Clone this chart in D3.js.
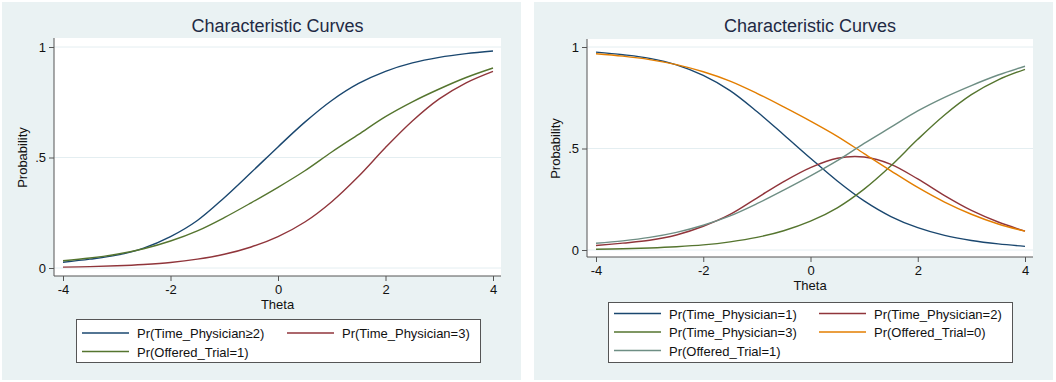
<!DOCTYPE html>
<html>
<head>
<meta charset="utf-8">
<script src="https://cdn.jsdelivr.net/npm/d3@7"></script>
<style>
  body { margin: 0; background: #fff; }
  svg { display: block; font-family: "Liberation Sans", Arial, sans-serif; }
</style>
</head>
<body>
<svg id="chart" width="1056" height="382"></svg>
<script>
// theta grid
const theta = [-4, -3.5, -3, -2.5, -2, -1.5, -1, -0.5, 0, 0.5, 1, 1.5, 2, 2.5, 3, 3.5, 4];

// left panel
const leftGe2      = [0.026, 0.040, 0.058, 0.090, 0.142, 0.215, 0.318, 0.432, 0.548, 0.660, 0.758, 0.835, 0.890, 0.928, 0.953, 0.970, 0.982];
const leftEq3      = [0.004, 0.006, 0.010, 0.016, 0.025, 0.040, 0.062, 0.095, 0.142, 0.208, 0.300, 0.415, 0.545, 0.665, 0.765, 0.838, 0.890];
const leftOffered1 = [0.033, 0.045, 0.062, 0.087, 0.122, 0.168, 0.228, 0.295, 0.365, 0.440, 0.525, 0.605, 0.685, 0.752, 0.810, 0.862, 0.905];

// right panel
const rightEq1      = [0.975, 0.962, 0.944, 0.912, 0.860, 0.785, 0.682, 0.568, 0.452, 0.340, 0.242, 0.165, 0.110, 0.072, 0.047, 0.030, 0.018];
const rightEq2      = [0.022, 0.034, 0.048, 0.074, 0.117, 0.175, 0.256, 0.337, 0.406, 0.452, 0.458, 0.422, 0.350, 0.268, 0.195, 0.138, 0.093];
const rightEq3      = [0.004, 0.006, 0.010, 0.016, 0.025, 0.040, 0.062, 0.095, 0.142, 0.208, 0.300, 0.415, 0.545, 0.665, 0.765, 0.838, 0.890];
const rightOffered0 = [0.967, 0.955, 0.938, 0.913, 0.878, 0.832, 0.772, 0.705, 0.635, 0.560, 0.475, 0.390, 0.308, 0.236, 0.176, 0.128, 0.093];
const rightOffered1 = [0.033, 0.045, 0.062, 0.087, 0.122, 0.168, 0.228, 0.295, 0.365, 0.440, 0.525, 0.605, 0.685, 0.752, 0.810, 0.862, 0.905];

const xTicks = [-4, -2, 0, 2, 4];
const yTicks = [0, 0.5, 1];
const yTickLabels = ["0", ".5", "1"];

const navy = "#1a476f", maroon = "#90353b", green = "#55752f", orange = "#e37e00", teal = "#6e8e84";

const svg = d3.select("#chart");

function drawPanel(p) {
  const g = svg.append("g");

  // graph region background
  g.append("rect")
    .attr("x", p.box[0]).attr("y", p.box[1])
    .attr("width", p.box[2]).attr("height", p.box[3])
    .attr("fill", "#eaf2f3");

  // plot region
  g.append("rect")
    .attr("x", p.plot.left).attr("y", p.plot.top)
    .attr("width", p.plot.right - p.plot.left)
    .attr("height", p.plot.bottom - p.plot.top)
    .attr("fill", "#fff");

  const x = d3.scaleLinear().domain([-4, 4]).range(p.xRange);
  const y = d3.scaleLinear().domain([0, 1]).range(p.yRange);

  // grid lines
  g.selectAll(".grid").data(yTicks).enter().append("line")
    .attr("x1", p.plot.left).attr("x2", p.plot.right)
    .attr("y1", d => y(d)).attr("y2", d => y(d))
    .attr("stroke", "#e4eef1").attr("stroke-width", 1);

  // axes
  const yAxis = g.append("g")
    .attr("transform", `translate(${p.plot.left},0)`)
    .call(d3.axisLeft(y).tickValues(yTicks).tickFormat((d, i) => yTickLabels[i]).tickSize(5).tickPadding(3));
  yAxis.select(".domain").attr("d", `M0,${p.plot.top}V${p.plot.bottom}`);

  const xAxis = g.append("g")
    .attr("transform", `translate(0,${p.plot.bottom})`)
    .call(d3.axisBottom(x).tickValues(xTicks).tickSize(5).tickPadding(4));
  xAxis.select(".domain").attr("d", `M${p.plot.left},0H${p.plot.right}`);

  [yAxis, xAxis].forEach(a => {
    a.selectAll("text").attr("font-size", 13).attr("fill", "#111").attr("font-family", "Liberation Sans, Arial, sans-serif");
    a.selectAll("line, path").attr("stroke", "#555");
  });
  xAxis.selectAll("text").text(d => d < 0 ? "-" + Math.abs(d) : d);

  // titles
  g.append("text")
    .attr("x", (p.plot.left + p.plot.right) / 2).attr("y", 32)
    .attr("text-anchor", "middle").attr("font-size", 18).attr("fill", "#1f2a44")
    .text("Characteristic Curves");

  g.append("text")
    .attr("x", (p.plot.left + p.plot.right) / 2).attr("y", p.plot.bottom + 33)
    .attr("text-anchor", "middle").attr("font-size", 13).attr("fill", "#111")
    .text("Theta");

  g.append("text")
    .attr("transform", `translate(${p.plot.left - 27},${y(0.5)}) rotate(-90)`)
    .attr("text-anchor", "middle").attr("font-size", 13).attr("fill", "#111")
    .text("Probability");

  // curves
  const line = d3.line()
    .x((d, i) => x(theta[i]))
    .y(d => y(d))
    .curve(d3.curveCatmullRom.alpha(0.5));

  p.series.forEach(s => {
    g.append("path")
      .datum(s.values)
      .attr("d", line)
      .attr("fill", "none")
      .attr("stroke", s.color)
      .attr("stroke-width", 1.4);
  });

  // legend
  const lg = p.legend;
  g.append("rect")
    .attr("x", lg.x + 0.5).attr("y", lg.y + 0.5)
    .attr("width", lg.w).attr("height", lg.h)
    .attr("fill", "#fff").attr("stroke", "#555").attr("stroke-width", 1);

  p.series.forEach((s, i) => {
    const col = i % 2, row = Math.floor(i / 2);
    const cx = lg.x + lg.colX[col];
    const cy = lg.y + lg.rowY0 + row * lg.rowH;
    g.append("line")
      .attr("x1", cx).attr("x2", cx + 47)
      .attr("y1", cy).attr("y2", cy)
      .attr("stroke", s.color).attr("stroke-width", 1.4);
    g.append("text")
      .attr("x", cx + 55).attr("y", cy + 5)
      .attr("font-size", 13).attr("fill", "#111")
      .text(s.name);
  });
}

drawPanel({
  box: [2, 2, 519, 378],
  plot: { left: 54, right: 501, top: 38, bottom: 276 },
  xRange: [63, 493],
  yRange: [268, 47],
  legend: { x: 76, y: 319, w: 404, h: 43, colX: [6, 211], rowY0: 14, rowH: 18.5 },
  series: [
    { name: "Pr(Time_Physician\u22652)", values: leftGe2, color: navy },
    { name: "Pr(Time_Physician=3)", values: leftEq3, color: maroon },
    { name: "Pr(Offered_Trial=1)", values: leftOffered1, color: green }
  ]
});

drawPanel({
  box: [534, 2, 519, 378],
  plot: { left: 587, right: 1033, top: 39, bottom: 257 },
  xRange: [596, 1025],
  yRange: [250, 47],
  legend: { x: 608, y: 302, w: 404, h: 60, colX: [6, 211], rowY0: 11.5, rowH: 18.5 },
  series: [
    { name: "Pr(Time_Physician=1)", values: rightEq1, color: navy },
    { name: "Pr(Time_Physician=2)", values: rightEq2, color: maroon },
    { name: "Pr(Time_Physician=3)", values: rightEq3, color: green },
    { name: "Pr(Offered_Trial=0)", values: rightOffered0, color: orange },
    { name: "Pr(Offered_Trial=1)", values: rightOffered1, color: teal }
  ]
});
</script>
</body>
</html>
